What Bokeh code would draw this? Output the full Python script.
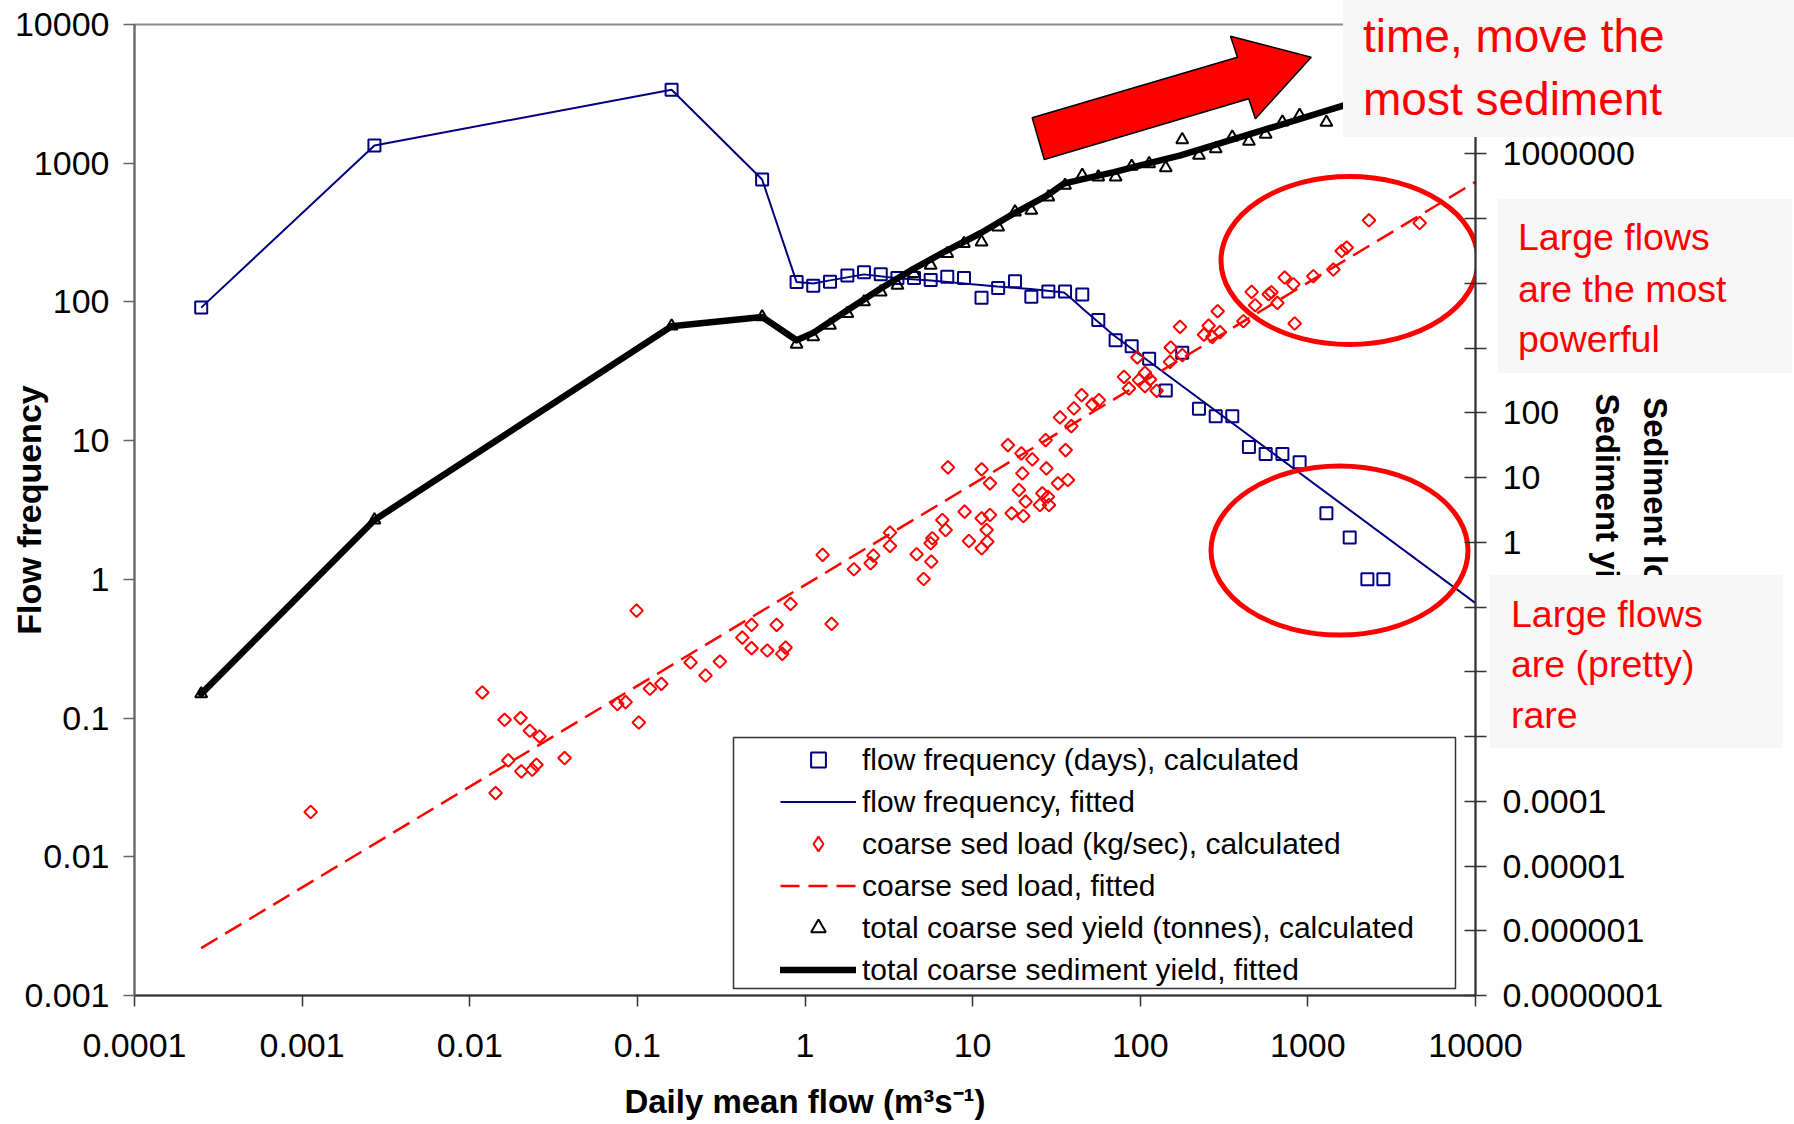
import numpy as np
from bokeh.plotting import figure
from bokeh.layouts import column
from bokeh.models import (Range1d, LogScale, LogAxis, FixedTicker, CustomJSTickFormatter,
                          Legend, LegendItem, BoxAnnotation, Div)
from bokeh.embed import file_html
from bokeh.resources import INLINE

FONT = "Liberation Sans"
NAVY = "#000080"
RED = "#ff0000"

# ---------------- data ----------------
# flow frequency (days), calculated  -- left axis
flow_q = [0.00025, 0.0027, 0.16, 0.555, 0.891, 1.12, 1.41, 1.79, 2.25, 2.83, 3.56, 4.47,
          5.62, 7.06, 8.88, 11.3, 14.2, 17.9, 22.4, 28.3, 35.6, 45.1, 56.2, 71.3, 88.9,
          113, 142, 178, 224, 282, 354, 445, 560, 705, 893, 1290, 1776, 2265, 2821]
flow_days = [91, 1342, 3381, 763, 139, 131, 140, 155, 164, 158, 149, 149,
             144, 152, 149, 107, 126, 141, 109, 119, 119, 113, 74, 53, 48,
             39, 23, 43, 17, 15, 15, 9, 8, 8, 7, 3, 2, 1, 1]

# flow frequency, fitted
flowfit_q = [0.00025, 0.0027, 0.16, 0.555, 0.891, 1.12, 1.41, 2.25, 3.56, 5.62, 8.88,
             14.0, 22.2, 35.1, 40.2, 46.1, 69.7, 10000]
flowfit_days = [91, 1342, 3381, 763, 139, 136, 143, 158, 148, 143, 136,
                129, 124, 117, 102, 87.7, 57.3, 0.673]

# coarse sed load (kg/sec), calculated -- right axis
load_q = [0.001125, 0.01188, 0.01613, 0.0201, 0.02284, 0.0261, 0.01698, 0.0203, 0.0236, 0.0250,
          0.01426, 0.0368, 0.0759, 0.0851, 0.0989, 0.102, 0.1188, 0.139, 0.2077, 0.255,
          0.3106, 0.4226, 0.48, 0.48, 0.5957, 0.732, 0.766, 0.677, 0.820, 1.274,
          1.441, 1.957, 2.462, 2.556, 3.212, 3.212, 4.633, 5.10, 5.615, 5.75,
          5.67, 6.596, 6.902, 7.123, 8.959, 9.506, 11.32, 11.32, 12.12, 12.24,
          11.32, 12.69, 12.69, 16.24, 17.09, 18.89, 19.53, 19.8, 20.07, 20.71,
          22.71, 25.2, 26.05, 27.27, 27.54, 28.13, 28.53, 32.29, 33.19, 35.88,
          37.03, 38.8, 40.2, 44.7, 51.8, 56.7, 79.96, 85.6, 96.1, 98.2,
          106.7, 106.7, 114.3, 125.3, 151.9, 150.4, 172.6, 178.3, 240, 255.9,
          269.3, 298.9, 289.6, 412.3, 462, 484.8, 583.7, 605.8, 657.7, 727,
          819.3, 834, 1078, 1419, 1591, 1704, 2315, 4645]
load_kgs = [6.84e-5, 0.0048, 0.001816, 0.00193, 0.00123, 0.001004, 0.000428, 0.00029, 0.000307, 0.000367,
            0.000134, 0.000466, 0.00318, 0.0034, 0.0883, 0.00165, 0.00547, 0.00653, 0.01393, 0.00877,
            0.01442, 0.0338, 0.0531, 0.0232, 0.02133, 0.01896, 0.0237, 0.0531, 0.112, 0.64,
            0.0551, 0.3846, 0.476, 0.624, 1.412, 0.880, 0.655, 0.272, 0.969, 1.157,
            0.5036, 2.218, 1.554, 14.42, 2.978, 1.051, 13.43, 2.355, 1.554, 1.025,
            0.811, 8.17, 2.648, 31.85, 2.81, 6.44, 23.7, 11.65, 2.555, 4.25,
            19.15, 3.78, 5.724, 38.0, 13.92, 5.073, 3.78, 8.17, 85.2, 26.67,
            9.19, 62.56, 117.3, 188.2, 135.2, 157.6, 360.6, 238.8, 718.5, 320.8,
            415.9, 259.2, 328.9, 219.3, 1025, 614.5, 2132, 779.8, 1616, 2225,
            1494, 1766, 3724, 2610, 7396, 4609, 6813, 7314, 5000, 12330,
            9720, 2405, 12920, 16390, 31730, 35810, 94470, 85820]

# coarse sed load, fitted
loadfit_q = [0.00025, 10000]
loadfit_kgs = [5.4e-7, 3.7e5]

# total coarse sed yield (tonnes), calculated -- right axis
yield_q = [0.00025, 0.0027, 0.16, 0.555, 0.891, 1.12, 1.41, 1.79, 2.25, 2.83, 3.56, 4.47,
           5.62, 7.06, 8.88, 11.3, 14.2, 17.9, 22.4, 28.3, 35.6, 45.1, 56.2, 71.3, 88.9,
           113, 142, 178, 224, 282, 354, 445, 560, 705, 893, 1290]
yield_t = [0.00457, 2.22, 2188, 3040, 1153, 1494, 2264, 3431, 5183, 7396, 9380, 14220,
           19090, 28930, 41280, 43670, 74470, 126900, 134800, 216300, 327500, 467500, 440000, 440000, 643800,
           708300, 610300, 1662000, 951000, 1207000, 1823000, 1576000, 2007000, 3107000, 3941000, 3074000]

# total coarse sediment yield, fitted
yieldfit_q = [0.00025, 0.0027, 0.16, 0.555, 0.891, 1.12, 1.79, 2.83, 4.47, 7.06, 11.2, 17.6,
              27.9, 35.0, 44.1, 69.7, 110, 174, 1642, 10000]
yieldfit_t = [0.00457, 2.22, 2188, 3040, 1327, 1722, 3855, 8337, 16980, 32500, 60100, 120000,
              229500, 348400, 401300, 525700, 708000, 951000, 5620000, 24200000]

# axis ticks and labels (right-axis labels hidden behind the call-out boxes are blank)
x_ticks = [0.0001, 0.001, 0.01, 0.1, 1, 10, 100, 1000, 10000]
x_labels = ["0.0001", "0.001", "0.01", "0.1", "1", "10", "100", "1000", "10000"]
yl_ticks = [0.001, 0.01, 0.1, 1, 10, 100, 1000, 10000]
yl_labels = ["0.001", "0.01", "0.1", "1", "10", "100", "1000", "10000"]
yr_ticks = [1e-7, 1e-6, 1e-5, 1e-4, 1e-3, 1e-2, 1e-1, 1, 10, 100, 1e3, 1e4, 1e5, 1e6, 1e7, 1e8]
yr_labels = ["0.0000001", "0.000001", "0.00001", "0.0001", "", "", "", "1", "10",
             "100", "", "", "", "1000000", "", ""]

x_title = "Daily mean flow (m³s⁻¹)"
yl_title = "Flow frequency"
yr_title = "Sediment load\nSediment yield"

# call-out texts
call_text = ["time, move the", "most sediment", "Large flows", "are the most", "powerful",
             "Large flows", "are (pretty)", "rare"]

# ---------------- layout geometry ----------------
W, H = 1794, 1124
FL, FR, FT, FB = 134, 1475, 24, 995
BR = W - FR

p = figure(width=W, height=H, x_axis_type="log", y_axis_type="log",
           x_range=Range1d(1e-4, 1e4), y_range=Range1d(1e-3, 1e4),
           output_backend="svg", toolbar_location=None,
           min_border_left=FL, min_border_right=BR, min_border_top=FT, min_border_bottom=H - FB)
p.extra_y_ranges = {"sed": Range1d(1e-7, 1e8)}
p.extra_y_scales = {"sed": LogScale()}
p.grid.visible = False
p.background_fill_color = "white"
p.border_fill_color = "white"
p.outline_line_color = "#8c8c8c"
p.outline_line_width = 2

FMT = """
let best = 0;
const lt = Math.log10(tick);
for (let i = 0; i < vals.length; i++) {
  if (Math.abs(Math.log10(vals[i]) - lt) < Math.abs(Math.log10(vals[best]) - lt)) { best = i; }
}
return labs[best];
"""

sed_axis = LogAxis(y_range_name="sed")
p.add_layout(sed_axis, "right")


def style_axis(ax, ticks, labels, color, tin, standoff, title, title_standoff):
    ax.ticker = FixedTicker(ticks=ticks, minor_ticks=[])
    ax.formatter = CustomJSTickFormatter(args=dict(vals=ticks, labs=labels), code=FMT)
    ax.major_label_text_font = FONT
    ax.major_label_text_font_size = "34px"
    ax.major_label_text_color = "black"
    ax.axis_line_color = color
    ax.axis_line_width = 2
    ax.major_tick_line_color = color
    ax.major_tick_line_width = 1.5
    ax.major_tick_out = 11
    ax.major_tick_in = tin
    ax.minor_tick_line_color = None
    ax.major_label_standoff = standoff
    ax.axis_label = title
    ax.axis_label_text_font = FONT
    ax.axis_label_text_font_style = "bold"
    ax.axis_label_text_font_size = "33px"
    ax.axis_label_text_color = "black"
    ax.axis_label_standoff = title_standoff


style_axis(p.xaxis[0], x_ticks, x_labels, "#333333", 0, 27, x_title, 23)
style_axis(p.yaxis[0], yl_ticks, yl_labels, "#666666", 0, 14, yl_title, -36)
style_axis(sed_axis, yr_ticks, yr_labels, "#333333", 11, 16, yr_title, -77)
p.yaxis[0].axis_label_text_font_size = "34px"
sed_axis.axis_label_text_line_height = 1.3

# ---------------- series ----------------
r_flow = p.scatter(flow_q, flow_days, marker="square", size=12, fill_color=None,
                   line_color=NAVY, line_width=2)
r_flow_fit = p.line(flowfit_q, flowfit_days, line_color=NAVY, line_width=2)
r_load = p.scatter(load_q, load_kgs, y_range_name="sed", marker="square", angle=np.pi / 4,
                   size=9, fill_color=None, line_color=RED, line_width=2)
# zero-size twin of the load series, only so that the legend shows a diamond
r_load_leg = p.scatter(load_q, load_kgs, y_range_name="sed", marker="diamond", size=0,
                       fill_color=None, line_color=RED, line_width=2)
r_load_fit = p.line(loadfit_q, loadfit_kgs, y_range_name="sed", line_color=RED,
                    line_width=2.5, line_dash="19 9")
r_yield = p.scatter(yield_q, yield_t, y_range_name="sed", marker="triangle", size=12,
                    fill_color=None, line_color="black", line_width=2)
r_yield_fit = p.line(yieldfit_q, yieldfit_t, y_range_name="sed", line_color="black",
                     line_width=6.5, line_cap="round", line_join="round")


def px_x(sx):
    """screen x -> data x (for placing decorations only)"""
    return 10 ** (-4 + 8 * (sx - FL) / (FR - FL))


def px_y(sy):
    """screen y -> left-axis data y (for placing decorations only)"""
    return 10 ** (4 - 7 * (sy - FT) / (FB - FT))


# ellipses
p.ellipse(x=[px_x(1349), px_x(1339)], y=[px_y(260), px_y(550)], width=[257, 257],
          height=[168, 169], width_units="screen", height_units="screen",
          fill_color=None, line_color=RED, line_width=5)

# big red arrow
arrow_px = [(1031.7, 117.3), (1237, 56.7), (1230, 35.7), (1310.7, 56.7),
            (1254.9, 118.3), (1248.2, 98.3), (1043.8, 159)]
p.patch([px_x(a) for a, b in arrow_px], [px_y(b) for a, b in arrow_px],
        fill_color=RED, line_color="black", line_width=1.5)

# legend frame
p.add_layout(BoxAnnotation(left=px_x(733), right=px_x(1455), top=px_y(737), bottom=px_y(988),
                           fill_color="white", fill_alpha=1, line_color="#333333",
                           line_alpha=1, line_width=1.5, level="annotation"))

legend = Legend(items=[
    LegendItem(label="flow frequency (days), calculated", renderers=[r_flow]),
    LegendItem(label="flow frequency, fitted", renderers=[r_flow_fit]),
    LegendItem(label="coarse sed load (kg/sec), calculated", renderers=[r_load_leg]),
    LegendItem(label="coarse sed load, fitted", renderers=[r_load_fit]),
    LegendItem(label="total coarse sed yield (tonnes), calculated", renderers=[r_yield]),
    LegendItem(label="total coarse sediment yield, fitted", renderers=[r_yield_fit]),
], location=(780 - FL, FB - 988), orientation="vertical",
    glyph_width=76, glyph_height=37, label_height=37, spacing=5, padding=0, margin=0,
    label_standoff=6, label_text_font=FONT, label_text_font_size="30px",
    label_text_color="black", border_line_color=None, background_fill_alpha=0)
p.add_layout(legend)

# ---------------- call-out boxes laid over the picture (they also cover parts of the right axis) ----
boxes = [(1343, 0, W - 1343, 137), (1498, 199, 294, 174), (1490, 575, 293, 173)]
call_sx = [1363, 1363, 1518, 1518, 1518, 1511, 1511, 1511]
call_sy = [51.7, 115, 250, 301.7, 351.7, 626.7, 676.7, 728.3]
call_fs = [46, 46, 37.5, 37.5, 37.5, 37.5, 37.5, 37.5]

parts = [f'<svg xmlns="http://www.w3.org/2000/svg" width="{W}" height="{H}" '
         f'style="display:block;position:absolute;left:0;top:0">']
for x, y, w, h in boxes:
    parts.append(f'<rect x="{x}" y="{y}" width="{w}" height="{h}" fill="#f7f7f7"/>')
for t, x, y, f in zip(call_text, call_sx, call_sy, call_fs):
    parts.append(f'<text x="{x}" y="{y}" font-family="{FONT}" font-size="{f}px" '
                 f'fill="{RED}">{t}</text>')
parts.append('</svg>')

overlay = Div(text="".join(parts), width=W, height=H, margin=(-H, 0, 0, 0),
              styles={"position": "relative"})

layout = column(p, overlay, spacing=0)

open("out.html", "w").write(file_html(layout, INLINE))
